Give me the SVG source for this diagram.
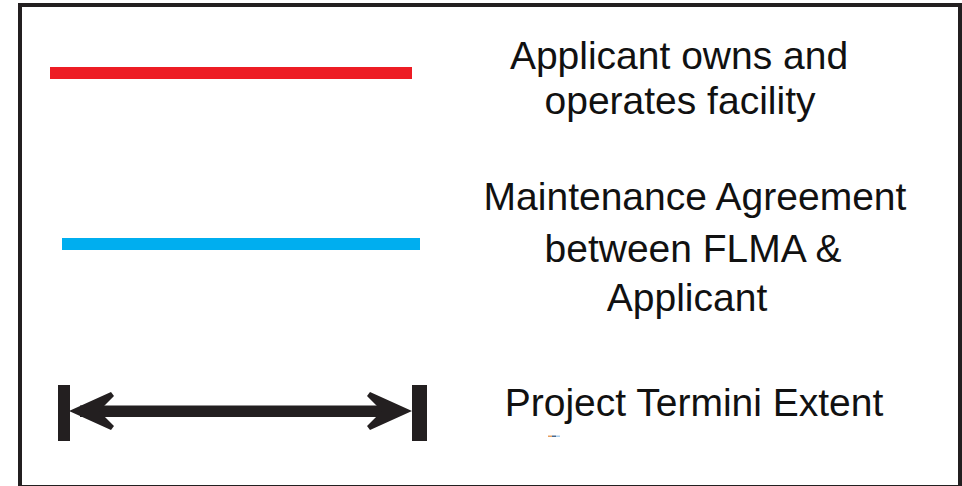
<svg xmlns="http://www.w3.org/2000/svg" width="962" height="486" viewBox="0 0 962 486">
<style>
.lbl{font-family:"Liberation Sans",Arial,sans-serif;font-size:39px;fill:#111111;text-anchor:middle}
.bar{fill:#231F20}
</style>
<rect x="0" y="0" width="962" height="486" fill="#ffffff"/>
<rect id="frame" x="20" y="5" width="940" height="482" fill="none" stroke="#231F20" stroke-width="4"/>
<g id="legend-owned">
<rect x="50" y="67" width="362" height="12" fill="#ED1C24"/>
<text class="lbl"><tspan x="679" y="69">Applicant owns and</tspan><tspan x="680" y="114">operates facility</tspan></text>
</g>
<g id="legend-maintenance">
<rect x="62" y="238" width="358" height="12" fill="#00AEEF"/>
<text class="lbl"><tspan x="695" y="210">Maintenance Agreement</tspan><tspan x="693" y="262">between FLMA &amp;</tspan><tspan x="687" y="311">Applicant</tspan></text>
</g>
<g id="legend-termini">
<rect class="bar" x="58" y="385" width="12" height="56"/>
<rect class="bar" x="412" y="385" width="15" height="56"/>
<rect class="bar" x="80" y="405.5" width="312" height="11.5"/>
<polygon class="bar" points="69,411 111,392 114,396 99,411 114,426 111,430"/>
<polygon class="bar" points="412,411 370,392 367,396 382,411 367,426 370,430"/>
<text class="lbl" x="694" y="416">Project Termini Extent</text>
<rect x="548" y="435.5" width="4" height="1.5" fill="#E8A060"/>
<rect x="552" y="435.5" width="4" height="1.5" fill="#4A6A90"/>
<rect x="556" y="435.5" width="4" height="1.5" fill="#A8D0F0"/>
</g>
</svg>
